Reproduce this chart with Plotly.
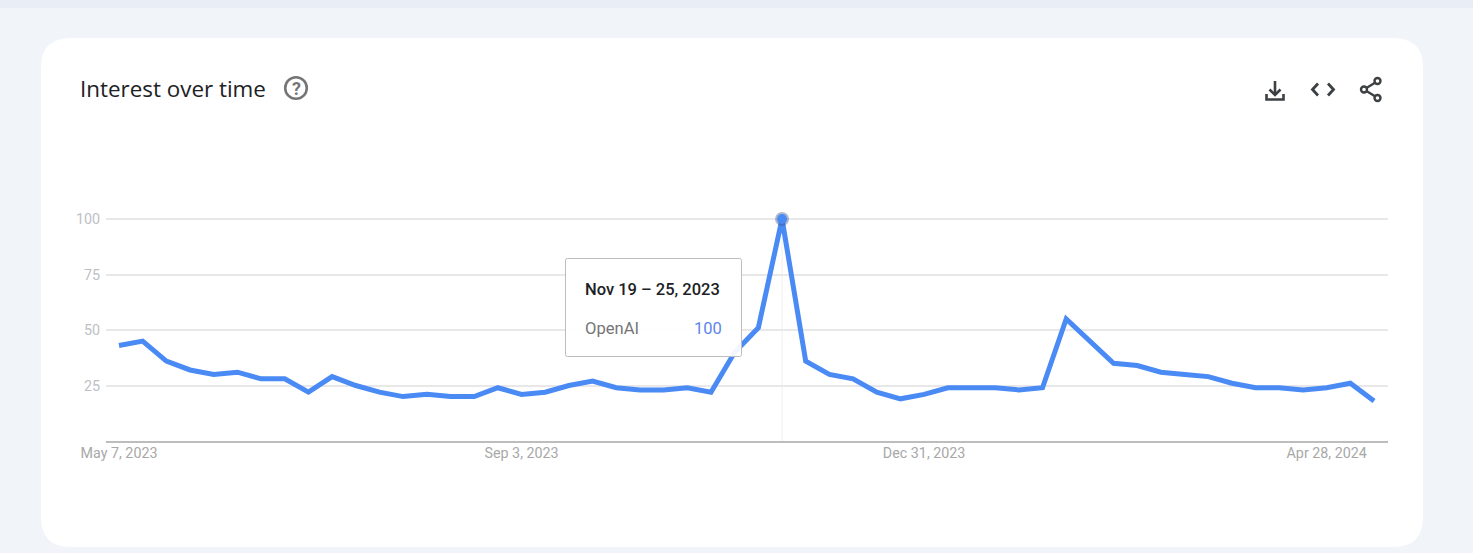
import pandas as pd
import plotly.graph_objects as go

W, H = 1473, 553
L, R, T, B = 106, 1388, 209, 441
Y_100_PX = 219

start_date = "2023-05-07"
series_name = "OpenAI"
values = [43, 45, 36, 32, 30, 31, 28, 28, 22, 29, 25, 22, 20, 21, 20, 20, 24, 21,
          22, 25, 27, 24, 23, 23, 24, 22, 40, 51, 100, 36, 30, 28, 22, 19, 21, 24,
          24, 24, 23, 24, 55, 45, 35, 34, 31, 30, 29, 26, 24, 24, 23, 24, 26, 18]
y_ticks = [25, 50, 75, 100]
x_tick_dates = ["2023-05-07", "2023-09-03", "2023-12-31", "2024-04-28"]
x_tick_labels = ["May 7, 2023", "Sep 3, 2023", "Dec 31, 2023", "Apr 28, 2024"]
peak_date, peak_value = "2023-11-19", 100
tooltip_title = "Nov 19 – 25, 2023"
chart_title = "Interest over time"

dates = pd.date_range(start_date, periods=len(values), freq="7D")
days_per_px = 7 / 23.68
x0 = dates[0] - pd.Timedelta(days=(119 - L) * days_per_px)
x1 = dates[0] + pd.Timedelta(days=(R - 119) * days_per_px)
y_top = 100 * (B - T) / (B - Y_100_PX)


def px(x):
    return (x - L) / (R - L)


def py(y):
    return (B - y) / (B - T)


def P(*cmds):
    """Build an SVG path from pixel positions, expressed in paper fractions."""
    out = []
    for c in cmds:
        if isinstance(c, str):
            out.append(c)
        else:
            out.append(f"{px(c[0]):.5f},{py(c[1]):.5f}")
    return " ".join(out)


def rect(x0_, y0_, x1_, y1_, **kw):
    return dict(type="rect", xref="paper", yref="paper", x0=px(x0_), x1=px(x1_),
                y0=py(y1_), y1=py(y0_), **kw)


def rounded(x0_, y0_, x1_, y1_, r):
    return P("M", (x0_ + r, y0_), "L", (x1_ - r, y0_), "Q", (x1_, y0_), (x1_, y0_ + r),
             "L", (x1_, y1_ - r), "Q", (x1_, y1_), (x1_ - r, y1_),
             "L", (x0_ + r, y1_), "Q", (x0_, y1_), (x0_, y1_ - r),
             "L", (x0_, y0_ + r), "Q", (x0_, y0_), (x0_ + r, y0_), "Z")


def circle(cx, cy, r, **kw):
    return dict(type="circle", xref="paper", yref="paper", x0=px(cx - r), x1=px(cx + r),
                y0=py(cy + r), y1=py(cy - r), **kw)


def stroke_path(d, color="#3c4043", width=2.6):
    return dict(type="path", xref="paper", yref="paper", path=d, layer="above",
                line=dict(color=color, width=width))


ICON = "#3c4043"
shapes = [
    rect(0, 0, W, 8, fillcolor="#e9edf6", line_width=0, layer="below"),
    dict(type="path", xref="paper", yref="paper", layer="below", fillcolor="#ffffff",
         line_width=0, path=rounded(41, 38, 1423, 547, 30)),
    # hover guide
    dict(type="line", xref="x", yref="paper", x0=peak_date, x1=peak_date, y0=0, y1=py(219),
         layer="below", line=dict(color="#eeeeee", width=1)),
    # tooltip
    dict(type="path", xref="paper", yref="paper", layer="above",
         fillcolor="rgba(255,255,255,0.92)", line=dict(color="#bdbdbd", width=1),
         path=rounded(565.5, 258.5, 741.5, 356.5, 2)),
    # help icon
    circle(296, 88, 10.8, layer="above", line=dict(color="#757575", width=2.6)),
    # download icon
    stroke_path(P("M", (1275, 81), "L", (1275, 94.5)), ICON),
    stroke_path(P("M", (1269.5, 89.5), "L", (1275, 95), "L", (1280.5, 89.5)), ICON),
    stroke_path(P("M", (1266.5, 94), "L", (1266.5, 99.5), "L", (1283.5, 99.5), "L", (1283.5, 94)), ICON),
    # embed icon
    stroke_path(P("M", (1318, 83.5), "L", (1312.5, 89.5), "L", (1318, 95.5)), ICON, 2.8),
    stroke_path(P("M", (1328, 83.5), "L", (1333.5, 89.5), "L", (1328, 95.5)), ICON, 2.8),
    # share icon
    stroke_path(P("M", (1364, 89.5), "L", (1377, 81.5)), ICON, 2.4),
    stroke_path(P("M", (1364, 89.5), "L", (1377, 97.5)), ICON, 2.4),
    circle(1364, 89.5, 3, layer="above", fillcolor="#ffffff", line=dict(color=ICON, width=2.4)),
    circle(1377.5, 81, 3, layer="above", fillcolor="#ffffff", line=dict(color=ICON, width=2.4)),
    circle(1377.5, 98, 3, layer="above", fillcolor="#ffffff", line=dict(color=ICON, width=2.4)),
]


def note(text, x, y, size, color, family="Roboto", anchor="left", weight=None):
    return dict(text=text, xref="paper", yref="paper", x=px(x), y=py(y), xanchor=anchor,
                yanchor="middle", showarrow=False, borderpad=0, borderwidth=0,
                font=dict(size=size, color=color, family=family, weight=weight))


annotations = [
    note(chart_title, 80, 88, 22.4, "#202124", "Open Sans"),
    note("?", 296, 88, 18, "#757575", "Roboto", "center", 700),
    note(tooltip_title, 585, 289, 16.5, "#202124", "Roboto", weight=500),
    note(series_name, 585, 328, 16.6, "#757575"),
    note("100", 722, 328, 16.5, "#5c85f0", anchor="right"),
]

fig = go.Figure()
fig.add_trace(go.Scatter(x=dates, y=values, mode="lines", name=series_name, cliponaxis=False,
                         line=dict(color="#4a8af4", width=5), hoverinfo="skip"))
fig.add_trace(go.Scatter(x=[peak_date], y=[peak_value], mode="markers", cliponaxis=False,
                         marker=dict(size=14, color="rgba(60,80,130,0.4)"), hoverinfo="skip"))
fig.add_trace(go.Scatter(x=[peak_date], y=[peak_value], mode="markers", cliponaxis=False,
                         marker=dict(size=10, color="#4a8af4"), hoverinfo="skip"))

fig.update_layout(
    width=W, height=H, showlegend=False,
    margin=dict(l=L, r=W - R, t=T, b=H - B, pad=0),
    paper_bgcolor="#f1f4f9", plot_bgcolor="rgba(0,0,0,0)",
    shapes=shapes, annotations=annotations,
    xaxis=dict(type="date", range=[x0, x1], tickmode="array", tickvals=x_tick_dates,
               ticktext=x_tick_labels, showgrid=False, zeroline=False, showline=True,
               linecolor="#bdbdbd", linewidth=2, ticks="", ticklabelstandoff=-2,
               tickfont=dict(family="Roboto", size=14.3, color="#a8a8a8")),
    yaxis=dict(range=[0, y_top], tickmode="array", tickvals=y_ticks, showgrid=True,
               gridcolor="#e8e8e8", gridwidth=1.5, zeroline=False, showline=False, ticks="",
               ticklabelstandoff=5,
               tickfont=dict(family="Roboto", size=14.3, color="#bdc1c6")),
)

fig.write_html("out.html", config={"displayModeBar": False},
               post_script="document.body.style.margin='0';document.body.style.overflow='hidden';")
